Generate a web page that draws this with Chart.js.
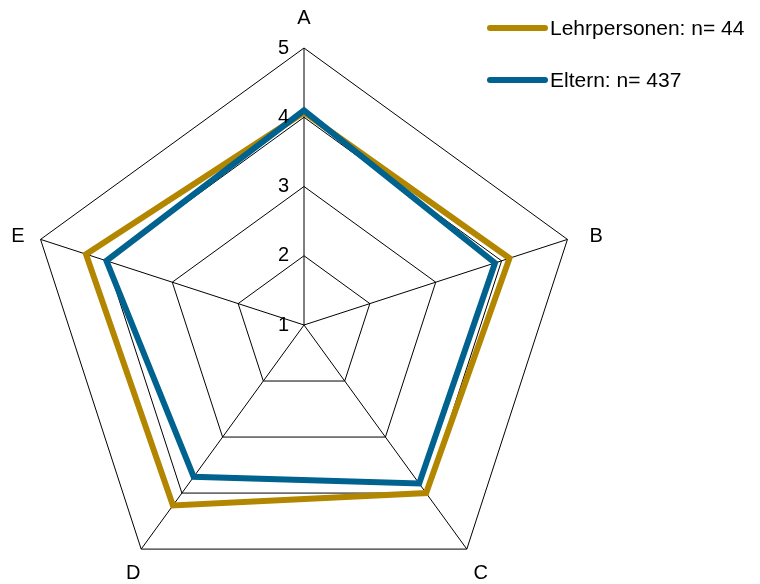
<!DOCTYPE html>
<html lang="de">
<head>
    <meta charset="UTF-8">
    <title>Radar Lehrpersonen / Eltern</title>
    <script src="https://cdn.jsdelivr.net/npm/chart.js@4/dist/chart.umd.min.js"></script>
    <style>
        html, body { margin: 0; padding: 0; background: #fff; overflow: hidden; }
    </style>
</head>
<body>
<!-- canvas is a bit taller than the window so the pentagon can sit low like the original -->
<canvas id="myChart" width="760" height="650"></canvas>
<script>

    const labels = ["A", "B", "C", "D", "E"];
    const tickValues = [1, 2, 3, 4, 5];
    const lehrpersonen = [4.07, 4.12, 4.00, 4.22, 4.31];
    const eltern = [4.10, 3.90, 3.83, 3.71, 4.00];
    const seriesNames = ["Lehrpersonen: n= 44", "Eltern: n= 437"];
    const seriesColors = ["#b38600", "#00628f"];

    const font = "'Liberation Sans', Arial, sans-serif";

    // draws tick numbers, axis letters and the legend
    const labelPlugin = {
        id: "labelPlugin",
        afterDraw(chart) {
            const ctx = chart.ctx;
            const scale = chart.scales.r;
            ctx.save();
            ctx.fillStyle = "#000";
            ctx.font = "20px " + font;

            ctx.textAlign = "right";
            ctx.textBaseline = "middle";
            tickValues.forEach(v => {
                const p = scale.getPointPositionForValue(0, v);
                ctx.fillText(String(v), p.x - 15, p.y);
            });

            ctx.textAlign = "center";
            chart.data.labels.forEach((lab, i) => {
                const p = scale.getPointPosition(i, scale.drawingArea + 27);
                const a = p.angle + Math.PI / 2;   // 0 at top, clockwise
                const s = Math.sin(a), c = Math.cos(a);
                let dx = Math.abs(s) > 0.1 ? 3 : 0;
                if (c < 0) dx -= Math.sign(s) * 5;   // lower labels sit closer in
                ctx.fillText(lab, p.x + dx, p.y - 3 + 9 * Math.abs(s));
            });

            ctx.textAlign = "left";
            ctx.font = "21px " + font;
            chart.data.datasets.forEach((ds, i) => {
                const y = 28 + i * 52;
                ctx.strokeStyle = ds.borderColor;
                ctx.lineWidth = 6;
                ctx.lineCap = "round";
                ctx.beginPath();
                ctx.moveTo(490, y);
                ctx.lineTo(545, y);
                ctx.stroke();
                ctx.fillText(ds.label, 550, y + 1);
            });
            ctx.restore();
        }
    };

    const myChart = new Chart("myChart", {
        type: "radar",
        data: {
            labels: labels,
            datasets: [{
                label: seriesNames[0],
                data: lehrpersonen,
                borderColor: seriesColors[0],
                borderWidth: 6,
                borderJoinStyle: "miter",
                pointRadius: 0,
                fill: false,
                order: 1
            }, {
                label: seriesNames[1],
                data: eltern,
                borderColor: seriesColors[1],
                borderWidth: 6,
                borderJoinStyle: "miter",
                pointRadius: 0,
                fill: false,
                order: 0
            }]
        },
        options: {
            responsive: false,
            animation: false,
            devicePixelRatio: 1,
            layout: {
                padding: { top: 48, left: 27, right: 179, bottom: 48 }
            },
            plugins: {
                legend: { display: false },
                tooltip: { enabled: false }
            },
            scales: {
                r: {
                    min: 1,
                    max: 5,
                    ticks: { display: false, stepSize: 1 },
                    pointLabels: { display: false },
                    grid: { color: "#000", lineWidth: 1 },
                    angleLines: { color: "#000", lineWidth: 1 }
                }
            }
        },
        plugins: [labelPlugin]
    });
</script>
</body>
</html>
